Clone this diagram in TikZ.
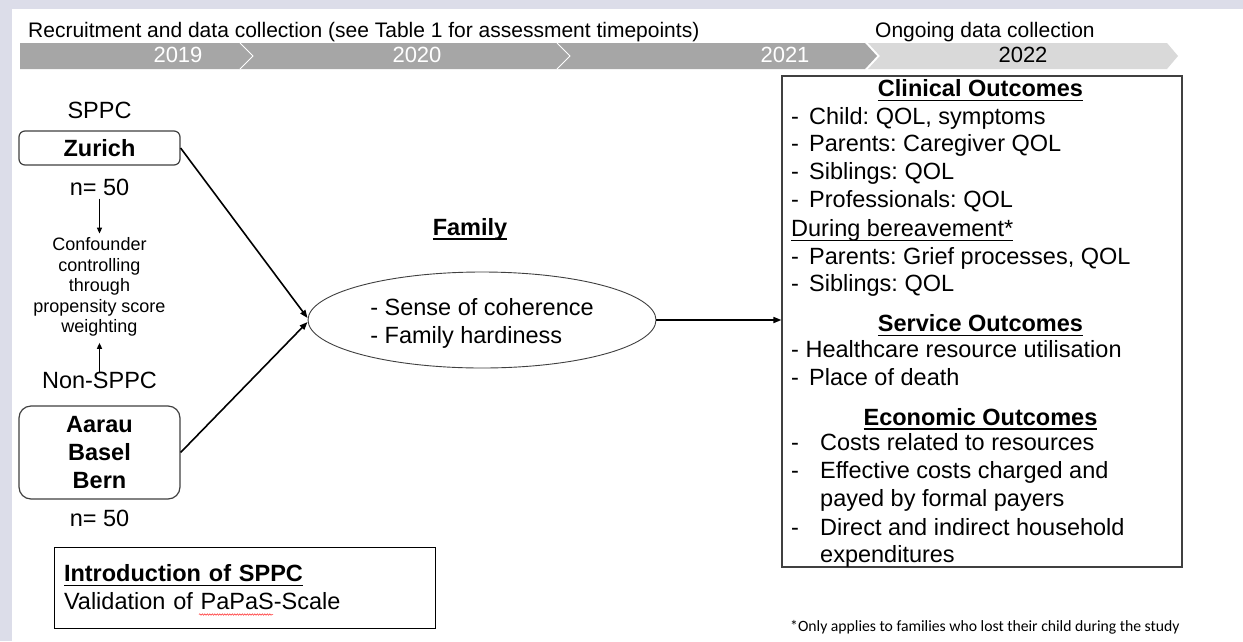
\documentclass[tikz,border=0pt]{standalone}
\usepackage{fontspec}
\setmainfont{Liberation Sans}
\newfontfamily\calib{Carlito}
\usetikzlibrary{arrows.meta,positioning,shapes.geometric,decorations.pathmorphing}
\definecolor{bgback}{HTML}{DCDDE9}
\definecolor{bardark}{HTML}{A6A6A6}
\definecolor{barlight}{HTML}{D9D9D9}
\definecolor{edgegray}{HTML}{404040}
\frenchspacing
\newcommand\txtsize{\fontsize{23.5}{28}\selectfont\frenchspacing}
\newcommand\undl[1]{\setbox0\hbox{#1}\rlap{\rule[-4.5pt]{\wd0}{1.4pt}}\box0}
\newcommand\itm[1]{\makebox[18pt][l]{-}#1}
\newcommand\eitm[1]{\makebox[29pt][l]{-}#1}
\tikzset{
    arr/.style={-{Triangle[length=8pt,width=6pt]}, line width=1.6pt},
    smallarr/.style={-{Triangle[length=6pt,width=5pt]}, line width=1.4pt},
    site/.style={draw=edgegray, line width=1.2pt, rounded corners=6pt, minimum width=161pt, font=\txtsize\bfseries},
    lbl/.style={inner sep=0pt},
    entry/.style={anchor=base west, inner sep=0pt},
    heading/.style={anchor=base, inner sep=0pt, font=\txtsize\bfseries},
    yearlbl/.style={inner sep=0pt, font=\fontsize{22}{22}\selectfont},
    toptxt/.style={anchor=base west, inner sep=0pt, font=\fontsize{21}{21}\selectfont}
}

\begin{document}
\begin{tikzpicture}[x=1pt,y=-1pt,font=\txtsize]
    \useasboundingbox (0,0) rectangle (1243,641);
    \fill[bgback] (0,0) rectangle (1243,641);
    \fill[white] (12,9) rectangle (1243,641);

    % timeline
    \fill[bardark] (20,43) -- (865,43) -- (877,56) -- (865,69) -- (20,69) -- cycle;
    \fill[barlight] (868,43) -- (1167,43) -- (1178,56) -- (1167,69) -- (868,69) -- (880,56) -- cycle;
    \draw[white, line width=1pt] (240,43) -- (253,56) -- (240,69);
    \draw[white, line width=1pt] (557,43) -- (570,56) -- (557,69);
    \node[yearlbl, text=white] (y19) at (178,54.5) {2019};
    \node[yearlbl, text=white] (y20) at (417,54.5) {2020};
    \node[yearlbl, text=white] (y21) at (785,54.5) {2021};
    \node[yearlbl] (y22) at (1023,54.5) {2022};
    \node[toptxt] (recruit) at (28,37) {Recruitment and data collection (see Table 1 for assessment timepoints)};
    \node[toptxt] (ongoing) at (875,37) {Ongoing data collection};

    % sites
    \node[site, minimum height=34pt] (zurich) at (99.5,148) {Zurich};
    \node[lbl, above=11.5pt of zurich] (sppc) {SPPC};
    \node[lbl, below=13pt of zurich] (nzur) {n= 50};
    \node[lbl, below=42pt of nzur, align=center, font=\fontsize{18}{20.5}\selectfont] (conf)
        {Confounder\\controlling\\through\\propensity score\\weighting};
    \node[site, rounded corners=12pt, minimum height=93pt, align=center] (aarau) at (99.5,452.5) {Aarau\\Basel\\Bern};
    \node[lbl, above=16pt of aarau] (nonsppc) {Non-SPPC};
    \node[lbl, below=10pt of aarau] (naar) {n= 50};
    \draw[smallarr, shorten <=3pt, shorten >=4pt] (nzur.south) -- (conf.north);
    \draw[smallarr, shorten >=6pt] (nonsppc.north) -- (conf.south);

    % family
    \node[draw=edgegray, line width=0.9pt, ellipse, minimum width=348pt, minimum height=96pt, inner sep=0pt, align=left] (fam) at (482,320)
        {\rule{0pt}{23pt}- Sense of coherence\\- Family hardiness};
    \node[heading] (famlbl) at (470,235) {\undl{Family}};

    % outcomes
    \node[draw=edgegray, line width=1.1pt, minimum width=400pt, minimum height=491pt, inner sep=0pt] (outcomes) at (982,321.5) {};
    \node[heading] (clin) at (980.5,96.7) {\undl{Clinical Outcomes}};
    \node[heading] (serv) at (980.5,331.7) {\undl{Service Outcomes}};
    \node[heading] (econ) at (980.5,425) {\undl{Economic Outcomes}};
    \foreach \nm/\yy/\txt in {
        c1/124.3/{\itm{Child: QOL, symptoms}},
        c2/151.7/{\itm{Parents: Caregiver QOL}},
        c3/179.3/{\itm{Siblings: QOL}},
        c4/207.7/{\itm{Professionals: QOL}},
        c5/236.7/{\undl{During bereavement*}},
        c6/264.3/{\itm{Parents: Grief processes, QOL}},
        c7/291.7/{\itm{Siblings: QOL}},
        s1/357.3/{- Healthcare resource utilisation},
        s2/385/{\itm{Place of death}},
        e1/450/{\eitm{Costs related to resources}},
        e2/478.3/{\eitm{Effective costs charged and}},
        e3/506.7/{\hspace*{29pt}payed by formal payers},
        e4/535/{\eitm{Direct and indirect household}},
        e5/562.3/{\hspace*{29pt}expenditures}}
        \node[entry] (\nm) at (791,\yy) {\txt};

    % connectors
    \draw[arr] (zurich.east) -- ([yshift=2pt]fam.west);
    \draw[arr] (aarau.east) -- ([yshift=-2pt]fam.west);
    \draw[arr] (fam.east) -- (fam.east -| outcomes.west);

    % introduction
    \node[draw=black, line width=1pt, text width=361pt, inner xsep=10pt, inner ysep=0pt, minimum height=81pt, align=left] (intro) at (244.5,587.5)
        {\undl{\bfseries Introduction of SPPC}\\Validation of PaPaS-Scale};
    \draw[red!85!white, line width=0.5pt, decorate, decoration={snake, amplitude=0.7pt, segment length=2.5pt}] (199,614.5) -- (273,614.5);

    \node[entry, font=\calib\fontsize{15.7}{15.7}\selectfont] (note) at (790,631) {*Only applies to families who lost their child during the study};
\end{tikzpicture}
\end{document}
